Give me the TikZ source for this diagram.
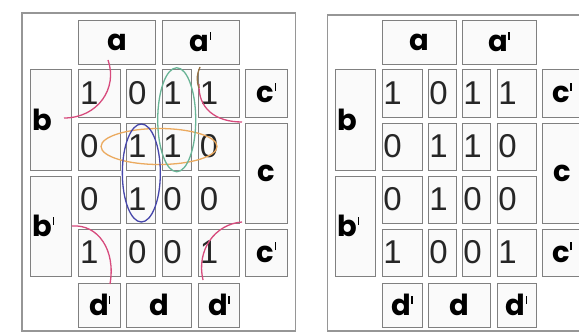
\documentclass[tikz,border=0pt]{standalone}
\usepackage{fontspec}
\setmainfont{Liberation Sans}
\newfontfamily\gothic{Poppins}
\usetikzlibrary{fit, calc}

\definecolor{cellgray}{RGB}{128,128,128}
\definecolor{framegray}{RGB}{150,150,150}
\definecolor{loopred}{RGB}{215,75,125}
\definecolor{loopbrown}{RGB}{150,115,70}
\definecolor{loopgreen}{RGB}{105,180,150}
\definecolor{loopblue}{RGB}{70,70,170}
\definecolor{looporange}{RGB}{235,170,95}

% prime mark of the variable names
\newcommand\prm{\kern0.5pt\rule[12pt]{1.2pt}{8pt}}

\begin{document}
\begin{tikzpicture}[
  x=1pt, y=-1pt,
  cell/.style={draw=cellgray, line width=0.9pt, fill=black!2, inner sep=0pt},
  frame/.style={draw=framegray, line width=1.4pt},
  var/.style={font=\gothic\bfseries\fontsize{29}{29}\selectfont, text=black, inner sep=0pt},
  bit/.style={font=\fontsize{33}{33}\selectfont, text=black!85, anchor=west, inner sep=1.5pt},
  ring/.style={line width=1.3pt}
]
\useasboundingbox (0,0) rectangle (579,334);
\fill[white] (0,0) rectangle (579,334);

% the two maps: left one gets the loops
\foreach \p/\ox/\sx/\fy in {L/30/1.0405/13, R/335/1/15} {
  \begin{scope}[xshift=\ox pt, xscale=\sx]
    \draw[frame] (-7.5,\fy) rectangle (255,331);

    % header and side boxes
    \node[cell, fit={(47,20) (121,64)}] (\p-a) {};
    \node[cell, fit={(127,20) (201,64)}] (\p-na) {};
    \node[cell, fit={(0,69) (40,170)}] (\p-b) {};
    \node[cell, fit={(0,176) (40,276)}] (\p-nb) {};
    \node[cell, fit={(207,69) (247,117)}] (\p-nc1) {};
    \node[cell, fit={(207,123) (247,223)}] (\p-c) {};
    \node[cell, fit={(207,229) (247,276)}] (\p-nc2) {};
    \node[cell, fit={(47,283) (87,327)}] (\p-nd1) {};
    \node[cell, fit={(93,283) (155,327)}] (\p-d) {};
    \node[cell, fit={(162,283) (201,327)}] (\p-nd2) {};

    \node[var] (\p-at) at (\p-a) {a};
    \node[var] (\p-nat) at (\p-na) {a\prm};
    \node[var, anchor=west, inner sep=3pt] (\p-bt) at (\p-b.west) {b};
    \node[var, anchor=west, inner sep=3pt] (\p-nbt) at (\p-nb.west) {b\prm};
    \node[var] (\p-nc1t) at (\p-nc1) {c\prm};
    \node[var] (\p-ct) at (\p-c) {c};
    \node[var] (\p-nc2t) at (\p-nc2) {c\prm};
    \node[var] (\p-nd1t) at (\p-nd1) {d\prm};
    \node[var] (\p-dt) at (\p-d) {d};
    \node[var] (\p-nd2t) at (\p-nd2) {d\prm};

    % the 16 cells
    \foreach \r/\ya/\yb/\da/\db/\dc/\dd in {1/69/117/1/0/1/1, 2/123/170/0/1/1/0,
                                            3/176/223/0/1/0/0, 4/229/276/1/0/0/1} {
      \foreach \c/\xa/\xb/\d in {1/47/87/\da, 2/93/121/\db, 3/127/155/\dc, 4/162/201/\dd} {
        \node[cell, fit={(\xa,\ya) (\xb,\yb)}] (\p\r\c) {};
        \node[bit] (\p\r\c d) at (\p\r\c.west) {\d};
      }
    }
  \end{scope}
}

% groups of the left map
\draw[ring, looporange] ($(L22)!0.5!(L23)$) ellipse [x radius=58, y radius=18];
\draw[ring, loopgreen] ($(L13)!0.5!(L23)$) ellipse [x radius=19, y radius=52];
\draw[ring, loopblue] ($(L22)!0.5!(L32)$) ellipse [x radius=19, y radius=49];

% corner groups
\draw[ring, loopred] (108,60) .. controls (118,88) and (98,118) .. (64,118);
\draw[ring, loopred] (199,84) .. controls (198,108) and (215,122) .. (242,122);
\draw[ring, loopbrown] (200,67) .. controls (197,74) and (196,80) .. (199,88);
\draw[ring, loopred] (72,226) .. controls (98,224) and (116,250) .. (110,284);
\draw[ring, loopred] (242,222) .. controls (215,224) and (196,250) .. (203,280);

\end{tikzpicture}
\end{document}
